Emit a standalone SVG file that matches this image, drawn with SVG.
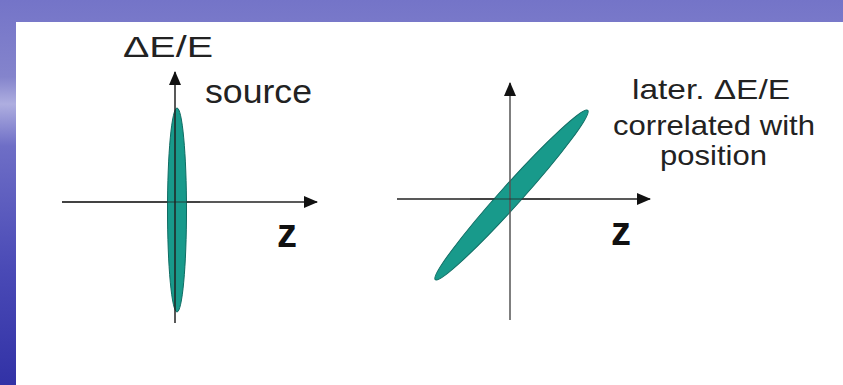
<svg xmlns="http://www.w3.org/2000/svg" width="843" height="385" viewBox="0 0 843 385">
<defs>
<linearGradient id="bg" x1="0" y1="0" x2="0" y2="1">
<stop offset="0" stop-color="#7474c8"/>
<stop offset="0.2" stop-color="#8484cc"/>
<stop offset="0.27" stop-color="#aeaee0"/>
<stop offset="0.38" stop-color="#6e6ec6"/>
<stop offset="0.7" stop-color="#4a4ab6"/>
<stop offset="1" stop-color="#3232a6"/>
</linearGradient>
<marker id="ah" viewBox="0 0 14 12" refX="13" refY="6" markerWidth="14" markerHeight="12" markerUnits="userSpaceOnUse" orient="auto">
<path d="M0,0 L14,6 L0,12 Z" fill="#111"/>
</marker>
<style>
.ax{stroke:#222;stroke-width:1.5;fill:none}
.bunch{fill:#189a8b;stroke:#0f6c63;stroke-width:1}
.t{font-family:"Liberation Sans",Arial,sans-serif;fill:#222}
.z{font-family:"Liberation Sans",Arial,sans-serif;font-weight:bold;font-size:40px;fill:#111}
</style>
</defs>
<rect x="0" y="0" width="843" height="385" fill="url(#bg)"/>
<rect x="16" y="22" width="827" height="363" fill="#ffffff"/>
<g id="connectors">
<line class="ax" x1="62" y1="202" x2="317" y2="202" marker-end="url(#ah)"/>
<line class="ax" x1="397" y1="199" x2="650" y2="199" marker-end="url(#ah)"/>
</g>
<g id="source-plot">
<ellipse class="bunch" cx="177" cy="210" rx="9.5" ry="102"/>
<line class="ax" x1="175" y1="323" x2="175" y2="72" marker-end="url(#ah)"/>
<line class="ax" x1="62" y1="202" x2="200" y2="202" style="stroke-opacity:0.5"/>
<text class="t" x="123" y="57" font-size="30" textLength="90" lengthAdjust="spacingAndGlyphs">ΔE/E</text>
<text class="t" x="205" y="103" font-size="33" fill="#333" textLength="107" lengthAdjust="spacingAndGlyphs">source</text>
<text class="z" x="277" y="247">z</text>
</g>
<g id="later-plot">
<ellipse class="bunch" cx="511.5" cy="195" rx="114" ry="10.5" transform="rotate(-48 511.5 195)"/>
<line class="ax" x1="510" y1="320" x2="510" y2="83" marker-end="url(#ah)" style="stroke:#555"/>
<line class="ax" x1="470" y1="199" x2="550" y2="199" style="stroke-opacity:0.5"/>
<text class="t" x="632" y="99" font-size="28" textLength="158" lengthAdjust="spacingAndGlyphs">later. ΔE/E</text>
<text class="t" x="613" y="135" font-size="28" textLength="202" lengthAdjust="spacingAndGlyphs">correlated with</text>
<text class="t" x="660" y="165" font-size="28" textLength="107" lengthAdjust="spacingAndGlyphs">position</text>
<text class="z" x="611" y="245">z</text>
</g>
</svg>
